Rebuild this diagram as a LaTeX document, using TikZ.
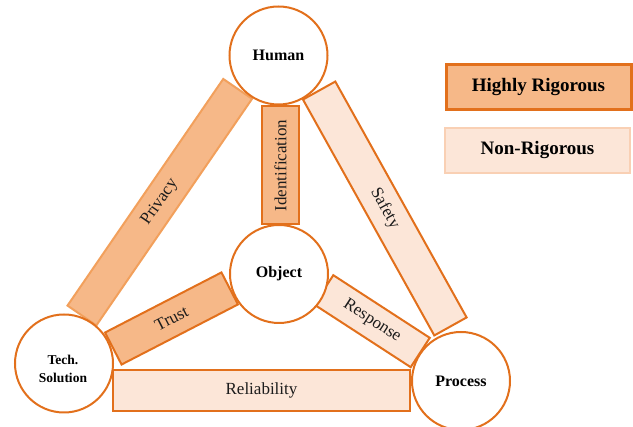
\documentclass[tikz,border=0pt]{standalone}
\usepackage{fontspec}
\setmainfont{Liberation Serif}
\definecolor{edgeorange}{HTML}{E2701C}
\definecolor{softedge}{HTML}{F2A05C}
\definecolor{hifill}{HTML}{F6B888}
\definecolor{lofill}{HTML}{FCE6D8}
\definecolor{loedge}{HTML}{F9D0B4}
\definecolor{labelgray}{HTML}{1C1C1C}
\tikzset{
  actor/.style={circle, draw=edgeorange, line width=2pt, fill=white,
    minimum size=98pt, inner sep=0pt, align=center,
    font=\fontsize{16}{18}\selectfont\bfseries},
  barbox/.style={rectangle, draw=edgeorange, line width=2pt, inner sep=0pt,
    text=labelgray, font=\fontsize{17}{20}\selectfont},
  rigorous/.style={barbox, fill=hifill},
  relaxed/.style={barbox, fill=lofill},
  legendbox/.style={rectangle, inner sep=0pt, minimum width=185pt,
    minimum height=45pt, font=\fontsize{19}{22}\selectfont\bfseries}
}
\begin{document}
\begin{tikzpicture}[x=1pt,y=1pt]
\useasboundingbox (0,0) rectangle (633,427);

% relation bars (drawn first, the circles sit on top of their ends)
\node[rigorous, draw=softedge, minimum width=275pt, minimum height=35pt, rotate=55.5]
  (privacy) at (159.8,224.8) {Privacy};
\node[relaxed, minimum width=270pt, minimum height=37pt, rotate=-60.9]
  (safety) at (384.8,218.5) {Safety};
\node[rigorous, minimum width=118pt, minimum height=37pt, rotate=90]
  (ident) at (280.5,261.5) {Identification};
\node[rigorous, minimum width=131pt, minimum height=36pt, rotate=27.3]
  (trust) at (171.5,108.5) {Trust};
\node[relaxed, minimum width=115pt, minimum height=35pt, rotate=-33]
  (response) at (372,105.8) {Response};
\node[relaxed, minimum width=297pt, minimum height=41pt]
  (reliab) at (261.5,36.5) {Reliability};

% the four actors
\node[actor] (human) at (278.5,371.5) {Human};
\node[actor] (object) at (279,153) {Object};
\node[actor] (tech) at (64,63.5) {};
\node[align=center, inner sep=0pt, font=\fontsize{13.5}{18}\selectfont\bfseries]
  (techtext) at ([xshift=-1pt,yshift=-5pt]tech.center) {Tech.\\Solution};
\node[actor] (process) at (461,46) {Process};

% legend
\node[legendbox, draw=edgeorange, line width=3pt, fill=hifill] (legHigh)
  at (538.5,339.5) {Highly Rigorous};
\node[legendbox, draw=loedge, line width=2.5pt, fill=lofill] (legLow)
  at (537.5,276.5) {Non-Rigorous};
\end{tikzpicture}
\end{document}
